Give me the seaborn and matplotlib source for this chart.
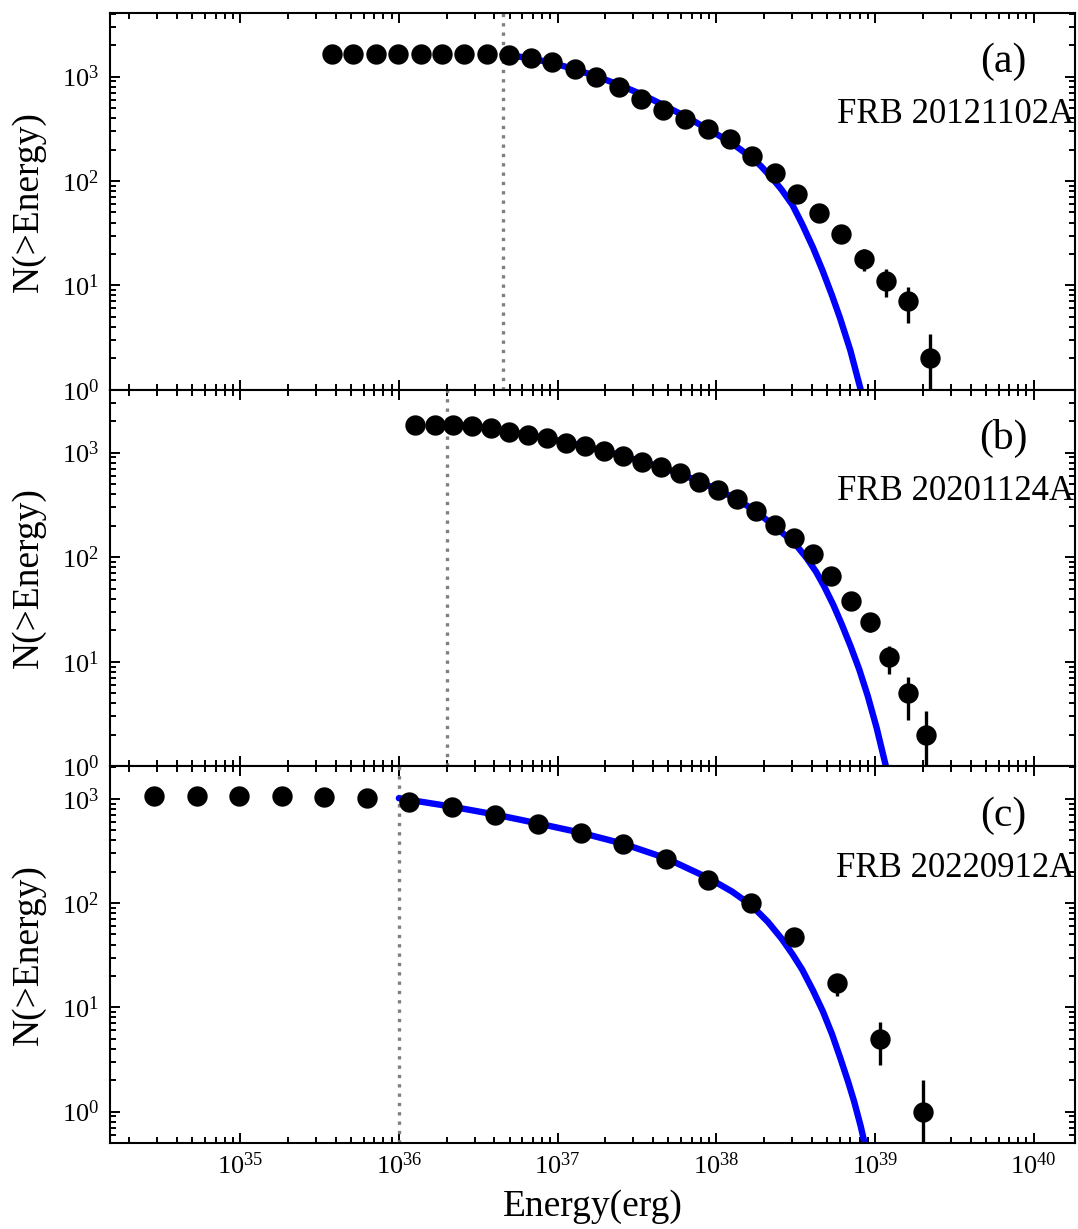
import numpy as np
import pandas as pd
import matplotlib
matplotlib.use("Agg")
import matplotlib.pyplot as plt
import seaborn as sns
from matplotlib.ticker import LogLocator, NullFormatter, FixedLocator

# ---------------- data ----------------
# Panel (a) FRB 20121102A
a_energy = [3.77e35, 5.16e35, 7.13e35, 9.89e35, 1.37e36, 1.87e36, 2.59e36, 3.57e36,
            4.92e36, 6.78e36, 9.29e36, 1.28e37, 1.75e37, 2.43e37, 3.37e37, 4.61e37,
            6.38e37, 8.83e37, 1.22e38, 1.68e38, 2.33e38, 3.21e38, 4.42e38, 6.12e38,
            8.47e38, 1.17e39, 1.61e39, 2.23e39]
a_count = [1652, 1651, 1650, 1649, 1648, 1646, 1642, 1635, 1610, 1520, 1393, 1185,
           985, 790, 611, 480, 394, 316, 253, 175, 120, 75, 49, 31, 18, 11, 7, 2]
a_err = [40.6, 40.6, 40.6, 40.6, 40.6, 40.6, 40.5, 40.4, 40.1, 39.0, 37.3, 34.4,
         31.4, 28.1, 24.7, 21.9, 19.8, 17.8, 15.9, 13.2, 11.0, 8.7, 7.0, 5.6, 4.2,
         3.3, 2.6, 1.4]
a_fit_logE = [36.654, 36.83, 36.97, 37.11, 37.25, 37.39, 37.53, 37.67, 37.81, 37.95,
              38.085, 38.15, 38.22, 38.28, 38.35, 38.41, 38.48, 38.54, 38.61, 38.67,
              38.73, 38.78, 38.845, 38.91, 38.96]
a_fit_logN = [3.215, 3.175, 3.13, 3.07, 3.0, 2.92, 2.83, 2.725, 2.615, 2.495,
              2.375, 2.305, 2.225, 2.145, 2.03, 1.92, 1.77, 1.59, 1.36, 1.14,
              0.90, 0.685, 0.375, 0.0, -0.33]
a_threshold = 4.5e36

# Panel (b) FRB 20201124A
b_energy = [1.27e36, 1.69e36, 2.20e36, 2.90e36, 3.81e36, 4.97e36, 6.50e36, 8.61e36,
            1.13e37, 1.49e37, 1.96e37, 2.58e37, 3.40e37, 4.48e37, 5.90e37, 7.76e37,
            1.02e38, 1.35e38, 1.77e38, 2.33e38, 3.07e38, 4.05e38, 5.32e38, 7.01e38,
            9.33e38, 1.23e39, 1.61e39, 2.10e39]
b_count = [1850, 1845, 1840, 1800, 1710, 1585, 1475, 1373, 1247, 1159, 1045, 930,
           820, 726, 636, 528, 440, 359, 279, 204, 152, 108, 66, 38, 24, 11, 5, 2]
b_err = [43.0, 43.0, 42.9, 42.4, 41.4, 39.8, 38.4, 37.1, 35.3, 34.0, 32.3, 30.5,
         28.6, 26.9, 25.2, 23.0, 21.0, 18.9, 16.7, 14.3, 12.3, 10.4, 8.1, 6.2,
         4.9, 3.3, 2.2, 1.4]
b_fit_logE = [36.30, 36.462, 36.581, 36.696, 36.813, 36.935, 37.054, 37.174, 37.293,
              37.412, 37.532, 37.651, 37.771, 37.890, 38.009, 38.129, 38.248, 38.368,
              38.45, 38.509, 38.57, 38.629, 38.68, 38.737, 38.79, 38.846, 38.90,
              38.954, 39.01, 39.069, 39.11]
b_fit_logN = [3.268, 3.25, 3.228, 3.20, 3.17, 3.137, 3.10, 3.06, 3.017,
              2.968, 2.915, 2.86, 2.80, 2.725, 2.645, 2.555, 2.44, 2.295,
              2.19, 2.105, 1.99, 1.86, 1.72, 1.545, 1.36, 1.15, 0.93,
              0.675, 0.37, 0.0, -0.28]
b_threshold = 2.0e36

# Panel (c) FRB 20220912A
c_energy = [2.86e34, 5.32e34, 9.91e34, 1.83e35, 3.40e35, 6.32e35, 1.16e36, 2.16e36,
            4.03e36, 7.48e36, 1.40e37, 2.58e37, 4.83e37, 8.93e37, 1.66e38, 3.10e38,
            5.74e38, 1.07e39, 2.00e39]
c_count = [1060, 1060, 1058, 1055, 1050, 1012, 928, 830, 706, 575, 468, 371, 266,
           168, 100, 47, 17, 5, 1]
c_err = [32.6, 32.6, 32.5, 32.5, 32.4, 31.8, 30.5, 28.8, 26.6, 24.0, 21.6, 19.3,
         16.3, 13.0, 10.0, 6.9, 4.1, 2.2, 0.999]
c_fit_logE = [36.0, 36.335, 36.605, 36.874, 37.146, 37.412, 37.684, 37.951, 38.10,
              38.22, 38.325, 38.411, 38.48, 38.542, 38.61, 38.672, 38.73, 38.78,
              38.83, 38.868, 38.91, 38.943, 38.97]
c_fit_logN = [3.006, 2.925, 2.85, 2.765, 2.675, 2.57, 2.43, 2.24, 2.11,
              1.98, 1.82, 1.66, 1.51, 1.36, 1.16, 0.96, 0.74, 0.52,
              0.29, 0.10, -0.14, -0.36, -0.52]
c_threshold = 1.0e36

panel_tags = ["(a)", "(b)", "(c)"]
panel_names = ["FRB 20121102A", "FRB 20201124A", "FRB 20220912A"]
ylims = [(1.0, 4070.0), (1.0, 4000.0), (0.5, 2050.0)]
xlim = (10 ** 34.18, 10 ** 40.26)
x_major_ticks = [1e35, 1e36, 1e37, 1e38, 1e39, 1e40]
y_major_ticks = [1e0, 1e1, 1e2, 1e3]

# ---------------- style ----------------
sns.set_style("ticks")
plt.rcParams["font.family"] = ["Liberation Serif", "DejaVu Serif"]
plt.rcParams["mathtext.fontset"] = "stix"
plt.rcParams["axes.linewidth"] = 1.5
for key in ["text.color", "axes.labelcolor", "xtick.color", "ytick.color",
            "axes.edgecolor"]:
    plt.rcParams[key] = "black"

fig = plt.figure(figsize=(10.78, 12.29), dpi=100)
gs = fig.add_gridspec(3, 1, hspace=0.0, left=0.1020, right=0.9972,
                      top=0.9894, bottom=0.0700)
axes = [fig.add_subplot(gs[0])]
axes.append(fig.add_subplot(gs[1], sharex=axes[0]))
axes.append(fig.add_subplot(gs[2], sharex=axes[0]))

panels = [
    (a_energy, a_count, a_err, a_fit_logE, a_fit_logN, a_threshold),
    (b_energy, b_count, b_err, b_fit_logE, b_fit_logN, b_threshold),
    (c_energy, c_count, c_err, c_fit_logE, c_fit_logN, c_threshold),
]

for i, (ax, (en, cnt, err, flE, flN, thr)) in enumerate(zip(axes, panels)):
    ax.set_xscale("log")
    ax.set_yscale("log")
    df = pd.DataFrame({"energy": en, "count": cnt, "err": err})
    fit = pd.DataFrame({"energy": 10.0 ** np.array(flE), "count": 10.0 ** np.array(flN)})

    ax.axvline(thr, color="#808080", lw=2.4, linestyle=(0, (1, 1.8)), zorder=1)
    sns.lineplot(data=fit, x="energy", y="count", ax=ax, color="#0000ff", lw=4.6,
                 sort=False, estimator=None, zorder=2)
    ax.errorbar(df["energy"], df["count"], yerr=df["err"], fmt="none",
                ecolor="black", elinewidth=2.4, capsize=0, zorder=3)
    sns.scatterplot(data=df, x="energy", y="count", ax=ax, color="black", s=215,
                    linewidth=0, zorder=4, legend=False)

    ax.set_xlim(*xlim)
    ax.set_ylim(*ylims[i])

    ax.xaxis.set_major_locator(FixedLocator(x_major_ticks))
    ax.xaxis.set_minor_locator(LogLocator(base=10, subs=np.arange(2, 10), numticks=100))
    ax.yaxis.set_major_locator(FixedLocator(y_major_ticks))
    ax.yaxis.set_minor_locator(LogLocator(base=10, subs=np.arange(2, 10), numticks=100))
    ax.xaxis.set_minor_formatter(NullFormatter())
    ax.yaxis.set_minor_formatter(NullFormatter())

    ax.tick_params(which="both", direction="in", top=True, right=True,
                   labelsize=19, width=1.4, colors="black")
    ax.tick_params(which="major", length=7.2)
    ax.tick_params(which="minor", length=4.0)
    ax.tick_params(axis="y", which="both", pad=8)
    ax.tick_params(axis="x", which="both", pad=7)
    for sp in ax.spines.values():
        sp.set_linewidth(1.5)
        sp.set_color("black")

    ax.set_ylabel("N(>Energy)", fontsize=27)
    ax.yaxis.set_label_coords(-0.066, 0.5)
    if i < 2:
        ax.tick_params(axis="x", which="both", labelbottom=False)
        ax.set_xlabel("")
    else:
        ax.set_xlabel("Energy(erg)", fontsize=27)
        ax.xaxis.set_label_coords(0.5, -0.122)

    ax.text(0.926, 0.87, panel_tags[i], transform=ax.transAxes, fontsize=30,
            ha="center", va="center")
    ax.text(0.999, 0.73, panel_names[i], transform=ax.transAxes, fontsize=25,
            ha="right", va="center")

fig.savefig("out.png", dpi=100)
